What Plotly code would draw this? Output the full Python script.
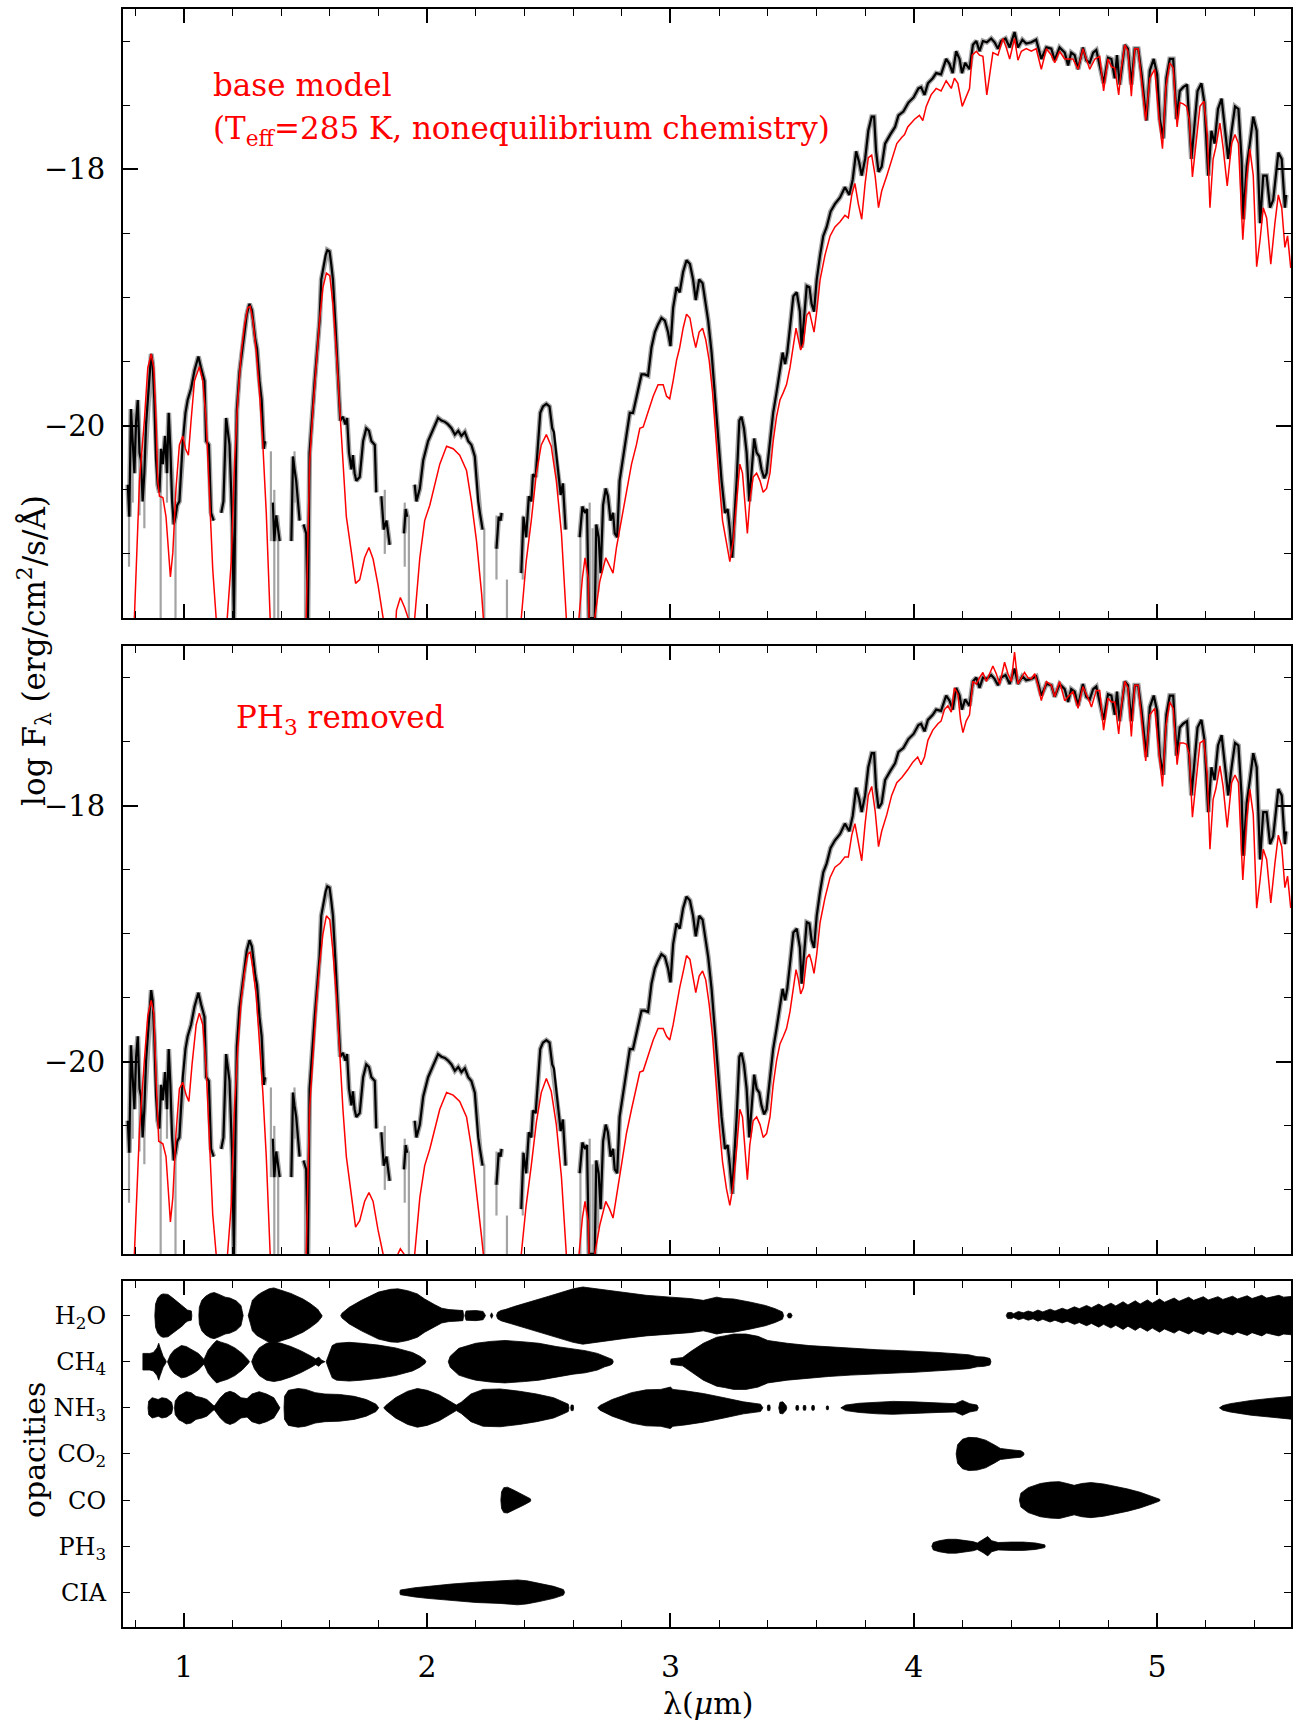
import plotly.graph_objects as go

# ---------------- data (wavelength in micron, log F_lambda) ----------------
# observed spectrum (black); None = gap
OBS = [(0.770,-20.46),(0.776,-20.71),(0.783,-19.87),(0.790,-20.12),(0.797,-20.37),(0.804,-19.96),(0.811,-19.80),
(0.818,-20.21),(0.824,-20.27),(0.831,-20.59),(0.838,-20.37),(0.845,-19.99),(0.852,-19.80),(0.859,-19.55),(0.866,-19.44),
(0.872,-19.52),(0.879,-19.80),(0.886,-20.27),(0.893,-20.46),(0.900,-20.52),(0.907,-20.18),(0.914,-20.30),(0.923,-20.08),
(0.931,-20.37),(0.938,-19.90),(0.945,-20.18),(0.952,-20.59),(0.959,-20.77),(0.966,-20.71),(0.973,-20.62),(0.982,-20.59),
(0.996,-20.12),(1.007,-19.90),(1.016,-19.80),(1.030,-19.71),(1.044,-19.57),(1.060,-19.46),(1.071,-19.55),(1.085,-19.65),
(1.092,-20.12),(1.103,-20.15),(1.112,-20.68),(1.123,-20.74),None,
(1.154,-20.68),(1.163,-20.59),(1.174,-19.94),(1.188,-20.15),(1.199,-20.74),(1.206,-21.5),(1.212,-20.6),(1.218,-19.88),
(1.229,-19.58),(1.246,-19.33),(1.259,-19.13),(1.270,-19.05),(1.280,-19.10),(1.294,-19.33),(1.301,-19.40),(1.311,-19.65),
(1.320,-19.80),(1.329,-20.18),(1.334,-20.12),None,
(1.366,-20.60),(1.372,-20.90),(1.380,-20.70),(1.394,-20.90),None,
(1.442,-20.90),(1.449,-20.24),(1.455,-20.34),(1.462,-20.43),(1.476,-20.74),None,
(1.492,-20.77),(1.503,-20.84),(1.510,-21.5),(1.517,-20.21),(1.538,-19.65),(1.558,-19.18),(1.565,-18.86),(1.583,-18.67),
(1.590,-18.63),(1.599,-18.64),(1.606,-18.74),(1.613,-18.86),(1.624,-19.24),(1.634,-19.61),(1.643,-19.96),(1.654,-19.93),
(1.664,-19.99),(1.671,-19.94),(1.679,-20.21),(1.689,-20.34),(1.695,-20.23),(1.702,-20.37),(1.709,-20.43),(1.723,-20.40),
(1.737,-20.12),(1.750,-20.02),(1.761,-20.04),(1.771,-20.12),(1.785,-20.15),(1.791,-20.52),None,
(1.812,-20.55),(1.822,-20.81),(1.833,-20.74),(1.846,-20.93),None,
(1.905,-20.84),(1.912,-20.65),(1.918,-20.71),None,
(1.949,-20.46),(1.956,-20.59),(1.970,-20.49),(1.984,-20.27),(2.004,-20.12),(2.025,-20.02),(2.045,-19.94),(2.059,-19.96),
(2.073,-19.97),(2.086,-19.99),(2.100,-20.02),(2.114,-20.07),(2.128,-20.04),(2.141,-20.08),(2.155,-20.05),(2.169,-20.12),
(2.182,-20.15),(2.196,-20.24),(2.210,-20.59),(2.217,-20.68),(2.228,-20.81),None,
(2.285,-20.96),(2.294,-20.71),(2.302,-20.74),(2.306,-20.68),None,
(2.387,-21.15),(2.396,-20.71),(2.407,-20.87),(2.418,-20.55),(2.428,-20.59),(2.435,-20.38),(2.446,-20.40),(2.455,-20.12),
(2.465,-19.90),(2.476,-19.85),(2.490,-19.83),(2.503,-19.85),(2.514,-20.02),(2.521,-20.05),(2.531,-20.24),(2.542,-20.43),
(2.549,-20.54),(2.558,-20.45),(2.565,-20.65),(2.569,-20.81),None,
(2.627,-20.87),(2.638,-20.63),(2.649,-20.68),(2.657,-20.65),(2.665,-21.5),(2.689,-21.5),(2.695,-20.77),(2.705,-20.87),
(2.713,-21.15),(2.723,-20.62),(2.734,-20.49),(2.743,-20.55),(2.754,-20.74),(2.764,-20.68),(2.771,-20.84),(2.781,-20.87),
(2.791,-20.43),(2.805,-20.24),(2.819,-20.05),(2.833,-19.90),(2.846,-19.90),(2.860,-19.77),(2.871,-19.68),(2.881,-19.60),
(2.894,-19.60),(2.908,-19.61),(2.922,-19.39),(2.936,-19.27),(2.949,-19.21),(2.963,-19.16),(2.977,-19.18),(2.990,-19.27),
(3.000,-19.38),(3.011,-19.08),(3.025,-18.92),(3.038,-18.96),(3.052,-18.80),(3.066,-18.71),(3.080,-18.74),(3.093,-18.86),
(3.104,-19.02),(3.118,-18.86),(3.132,-18.89),(3.145,-19.05),(3.155,-19.18),(3.169,-19.43),(3.182,-19.77),(3.196,-20.12),
(3.210,-20.43),(3.224,-20.68),(3.235,-20.65),(3.244,-20.81),(3.254,-21.03),(3.262,-20.74),(3.272,-20.43),(3.283,-19.96),
(3.292,-19.93),(3.302,-20.02),(3.313,-20.21),(3.324,-20.59),(3.333,-20.34),(3.344,-20.10),(3.354,-20.21),(3.365,-20.24),
(3.374,-20.34),(3.385,-20.41),(3.395,-20.37),(3.409,-20.12),(3.422,-19.90),(3.436,-19.74),(3.450,-19.58),(3.461,-19.43),
(3.471,-19.52),(3.480,-19.43),(3.491,-19.24),(3.505,-18.99),(3.519,-18.96),(3.532,-19.11),(3.539,-19.39),(3.549,-19.18),
(3.560,-18.91),(3.571,-18.92),(3.580,-19.05),(3.590,-19.11),(3.601,-18.86),(3.615,-18.67),(3.628,-18.52),(3.642,-18.45),
(3.658,-18.33),(3.676,-18.27),(3.697,-18.22),(3.717,-18.14),(3.735,-18.20),(3.749,-18.08),(3.763,-17.86),(3.776,-17.95),
(3.786,-18.05),(3.800,-17.92),(3.813,-17.70),(3.827,-17.59),(3.837,-17.59),(3.845,-17.86),(3.855,-18.02),(3.868,-17.98),
(3.882,-17.80),(3.903,-17.73),(3.923,-17.67),(3.937,-17.58),(3.957,-17.55),(3.978,-17.48),(3.999,-17.44),(4.019,-17.37),
(4.030,-17.36),(4.044,-17.42),(4.058,-17.33),(4.078,-17.29),(4.092,-17.25),(4.112,-17.26),(4.133,-17.14),(4.147,-17.18),
(4.160,-17.25),(4.174,-17.08),(4.188,-17.14),(4.198,-17.25),(4.211,-17.17),(4.229,-17.22),(4.243,-17.03),(4.257,-17.00),
(4.270,-17.08),(4.284,-17.00),(4.300,-17.01),(4.318,-16.98),(4.332,-17.01),(4.346,-17.06),(4.359,-17.00),(4.377,-16.98),
(4.394,-17.05),(4.414,-16.93),(4.428,-17.05),(4.446,-16.99),(4.462,-17.02),(4.483,-17.01),(4.503,-16.99),(4.524,-17.14),
(4.545,-17.05),(4.565,-17.06),(4.579,-17.15),(4.599,-17.05),(4.620,-17.09),(4.634,-17.19),(4.647,-17.09),(4.661,-17.11),
(4.675,-17.22),(4.695,-17.05),(4.709,-17.15),(4.723,-17.17),(4.737,-17.09),(4.750,-17.07),(4.764,-17.19),(4.780,-17.33),
(4.798,-17.13),(4.812,-17.14),(4.826,-17.29),(4.835,-17.11),(4.846,-17.34),(4.867,-17.03),(4.880,-17.06),(4.894,-17.34),
(4.908,-17.06),(4.922,-17.06),(4.936,-17.26),(4.956,-17.62),(4.970,-17.23),(4.986,-17.14),(5.000,-17.26),(5.011,-17.61),
(5.025,-17.76),(5.038,-17.29),(5.052,-17.14),(5.066,-17.14),(5.080,-17.61),(5.093,-17.39),(5.107,-17.36),(5.123,-17.34),
(5.141,-17.92),(5.155,-17.61),(5.166,-17.39),(5.182,-17.33),(5.194,-17.48),(5.210,-18.05),(5.223,-17.70),(5.236,-17.80),
(5.250,-17.53),(5.265,-17.45),(5.278,-17.70),(5.292,-17.92),(5.306,-17.70),(5.320,-17.51),(5.334,-17.53),(5.347,-17.92),
(5.354,-18.39),(5.368,-17.98),(5.381,-17.80),(5.395,-17.59),(5.409,-17.70),(5.423,-18.42),(5.436,-18.05),(5.450,-18.05),
(5.464,-18.30),(5.477,-18.24),(5.498,-17.87),(5.512,-17.92),(5.525,-18.30),(5.530,-18.20)]

# noise spikes of the observed spectrum: (wavelength, upper, lower)
OBS_SPIKES = [(0.775,-20.3,-21.1),(0.790,-19.9,-20.6),(0.818,-20.0,-20.7),(0.838,-20.2,-20.8),(0.905,-20.3,-21.5),
(0.931,-20.0,-20.6),(0.966,-20.6,-21.5),(1.205,-20.6,-21.5),(1.358,-20.2,-20.9),(1.372,-20.5,-21.5),(1.388,-20.7,-21.5),
(1.455,-20.2,-20.6),(1.498,-20.8,-21.5),(1.826,-20.5,-21.0),(1.908,-20.6,-21.1),(1.925,-20.7,-21.5),(2.235,-20.8,-21.5),
(2.285,-20.7,-21.2),(2.328,-21.2,-21.5),(2.393,-20.7,-21.2),(2.630,-20.8,-21.5),(2.668,-20.6,-21.5),(2.680,-20.8,-21.5),
(2.703,-20.8,-21.3)]

# model: base (Teff=285 K, nonequilibrium chemistry)
MODEL_BASE = [(0.797,-21.5),(0.818,-20.43),(0.838,-19.96),(0.852,-19.55),(0.866,-19.44),(0.877,-19.55),(0.886,-19.96),
(0.893,-20.43),(0.900,-20.55),(0.914,-20.56),(0.927,-20.71),(0.937,-20.99),(0.945,-21.18),(0.955,-20.99),(0.968,-20.49),
(0.982,-20.15),(0.996,-20.08),(1.007,-20.18),(1.019,-20.23),(1.030,-19.96),(1.044,-19.65),(1.064,-19.54),(1.078,-19.65),
(1.092,-19.96),(1.106,-20.59),(1.119,-21.12),(1.133,-21.5),(1.160,-22.0),(1.195,-21.06),(1.209,-20.27),(1.222,-19.80),
(1.236,-19.43),(1.250,-19.21),(1.263,-19.08),(1.273,-19.07),(1.284,-19.18),(1.298,-19.43),(1.311,-19.74),(1.325,-20.15),
(1.339,-20.68),(1.355,-21.5),(1.400,-22.0),(1.503,-21.5),(1.517,-20.30),(1.531,-19.87),(1.545,-19.49),(1.558,-19.18),
(1.572,-18.92),(1.586,-18.81),(1.600,-18.83),(1.613,-19.05),(1.627,-19.43),(1.641,-19.87),(1.654,-20.30),(1.668,-20.71),
(1.689,-20.99),(1.706,-21.23),(1.723,-21.20),(1.743,-21.03),(1.761,-20.95),(1.778,-21.04),(1.798,-21.24),(1.819,-21.5),
(1.860,-22.0),(1.874,-21.44),(1.890,-21.34),(1.908,-21.42),(1.922,-21.5),(1.935,-22.0),(1.949,-21.5),(1.970,-21.03),
(1.990,-20.74),(2.011,-20.62),(2.031,-20.46),(2.052,-20.30),(2.080,-20.16),(2.107,-20.18),(2.134,-20.23),(2.162,-20.35),
(2.182,-20.59),(2.203,-20.90),(2.224,-21.31),(2.231,-21.5),(2.300,-22.0),(2.387,-21.5),(2.407,-21.06),(2.428,-20.74),
(2.449,-20.37),(2.469,-20.15),(2.490,-20.07),(2.510,-20.16),(2.531,-20.43),(2.552,-20.84),(2.572,-21.5),(2.600,-22.0),
(2.624,-21.5),(2.638,-21.19),(2.649,-21.03),(2.662,-21.19),(2.665,-21.5),(2.680,-22.0),(2.689,-21.5),(2.709,-21.22),
(2.734,-21.03),(2.750,-21.09),(2.764,-21.15),(2.778,-20.95),(2.798,-20.74),(2.819,-20.49),(2.840,-20.30),(2.860,-20.15),
(2.874,-20.02),(2.888,-20.01),(2.908,-19.90),(2.929,-19.77),(2.949,-19.68),(2.970,-19.68),(2.984,-19.77),(2.997,-19.79),
(3.011,-19.65),(3.025,-19.49),(3.038,-19.39),(3.052,-19.24),(3.066,-19.13),(3.080,-19.16),(3.093,-19.30),(3.104,-19.39),
(3.118,-19.27),(3.132,-19.24),(3.145,-19.33),(3.159,-19.49),(3.173,-19.74),(3.187,-20.12),(3.200,-20.43),(3.214,-20.74),
(3.230,-20.93),(3.244,-21.06),(3.258,-20.90),(3.272,-20.62),(3.285,-20.30),(3.296,-20.37),(3.306,-20.59),(3.316,-20.84),
(3.326,-20.59),(3.340,-20.40),(3.354,-20.37),(3.368,-20.43),(3.381,-20.52),(3.395,-20.49),(3.409,-20.37),(3.422,-20.12),
(3.436,-19.93),(3.450,-19.80),(3.464,-19.74),(3.477,-19.68),(3.491,-19.55),(3.505,-19.36),(3.516,-19.24),(3.526,-19.33),
(3.535,-19.41),(3.546,-19.36),(3.560,-19.14),(3.571,-19.11),(3.580,-19.18),(3.590,-19.27),(3.601,-19.11),(3.615,-18.86),
(3.635,-18.67),(3.656,-18.52),(3.676,-18.45),(3.697,-18.41),(3.717,-18.36),(3.731,-18.38),(3.745,-18.20),(3.758,-18.11),
(3.772,-18.27),(3.786,-18.39),(3.800,-18.11),(3.813,-17.91),(3.827,-17.89),(3.841,-18.05),(3.855,-18.30),(3.868,-18.17),
(3.889,-18.05),(3.909,-17.92),(3.930,-17.80),(3.951,-17.75),(3.962,-17.73),(3.975,-17.67),(3.989,-17.64),(4.003,-17.61),
(4.023,-17.58),(4.037,-17.62),(4.051,-17.51),(4.071,-17.42),(4.092,-17.37),(4.112,-17.39),(4.133,-17.31),(4.154,-17.37),
(4.167,-17.29),(4.181,-17.33),(4.199,-17.51),(4.215,-17.43),(4.229,-17.37),(4.240,-17.11),(4.257,-17.08),(4.270,-17.11),
(4.284,-17.12),(4.300,-17.42),(4.311,-17.29),(4.325,-17.09),(4.346,-17.11),(4.366,-16.98),(4.380,-17.05),(4.394,-17.14),
(4.414,-16.98),(4.428,-17.15),(4.442,-17.08),(4.462,-17.06),(4.483,-17.08),(4.503,-17.06),(4.524,-17.22),(4.545,-17.06),
(4.565,-17.11),(4.579,-17.17),(4.599,-17.08),(4.620,-17.14),(4.634,-17.14),(4.654,-17.14),(4.675,-17.22),(4.695,-17.06),
(4.709,-17.14),(4.723,-17.22),(4.744,-17.14),(4.764,-17.12),(4.780,-17.39),(4.798,-17.14),(4.812,-17.20),(4.826,-17.21),
(4.842,-17.42),(4.853,-17.21),(4.867,-17.03),(4.880,-17.08),(4.894,-17.43),(4.908,-17.06),(4.922,-17.06),(4.936,-17.32),
(4.953,-17.62),(4.970,-17.29),(4.990,-17.22),(5.008,-17.61),(5.022,-17.84),(5.036,-17.36),(5.052,-17.17),(5.066,-17.21),
(5.082,-17.67),(5.093,-17.48),(5.107,-17.49),(5.121,-17.51),(5.132,-17.61),(5.145,-18.06),(5.160,-17.80),(5.176,-17.51),
(5.192,-17.47),(5.206,-17.73),(5.217,-18.30),(5.230,-17.92),(5.241,-17.83),(5.258,-17.64),(5.271,-17.83),(5.288,-18.13),
(5.306,-17.80),(5.320,-17.73),(5.334,-17.80),(5.343,-18.24),(5.352,-18.55),(5.368,-18.08),(5.381,-17.84),(5.395,-18.05),
(5.409,-18.76),(5.423,-18.55),(5.436,-18.30),(5.450,-18.38),(5.467,-18.74),(5.484,-18.42),(5.498,-18.20),(5.512,-18.30),
(5.525,-18.61),(5.536,-18.52),(5.549,-18.77)]

# model with PH3 removed
MODEL_NOPH3 = [(0.797,-21.5),(0.818,-20.53),(0.838,-19.99),(0.852,-19.64),(0.866,-19.52),(0.877,-19.62),(0.886,-20.12),
(0.897,-20.62),(0.914,-20.64),(0.927,-20.74),(0.937,-21.02),(0.945,-21.25),(0.955,-21.06),(0.968,-20.56),(0.982,-20.21),
(0.996,-20.16),(1.010,-20.26),(1.021,-20.31),(1.034,-20.02),(1.051,-19.71),(1.064,-19.62),(1.078,-19.71),(1.092,-20.05),
(1.106,-20.65),(1.119,-21.19),(1.133,-21.5),(1.160,-22.0),(1.195,-21.12),(1.209,-20.33),(1.222,-19.90),(1.236,-19.52),
(1.250,-19.30),(1.263,-19.16),(1.273,-19.14),(1.284,-19.27),(1.298,-19.49),(1.311,-19.83),(1.325,-20.24),(1.339,-20.74),
(1.355,-21.5),(1.400,-22.0),(1.503,-21.5),(1.517,-20.37),(1.531,-19.93),(1.545,-19.55),(1.558,-19.24),(1.572,-19.00),
(1.586,-18.86),(1.600,-18.89),(1.613,-19.14),(1.627,-19.49),(1.641,-19.93),(1.654,-20.37),(1.668,-20.74),(1.689,-21.06),
(1.706,-21.29),(1.723,-21.24),(1.743,-21.09),(1.761,-21.02),(1.778,-21.09),(1.798,-21.31),(1.819,-21.5),(1.860,-22.0),
(1.880,-21.5),(1.890,-21.46),(1.905,-21.5),(1.930,-22.0),(1.949,-21.5),(1.970,-21.06),(1.990,-20.81),(2.011,-20.68),
(2.031,-20.53),(2.052,-20.37),(2.080,-20.24),(2.107,-20.26),(2.134,-20.31),(2.162,-20.43),(2.182,-20.67),(2.203,-21.00),
(2.224,-21.37),(2.231,-21.5),(2.300,-22.0),(2.387,-21.5),(2.407,-21.12),(2.428,-20.81),(2.449,-20.47),(2.469,-20.24),
(2.490,-20.13),(2.510,-20.23),(2.531,-20.49),(2.552,-20.90),(2.572,-21.5),(2.600,-22.0),(2.624,-21.5),(2.638,-21.22),
(2.649,-21.09),(2.662,-21.25),(2.665,-21.5),(2.680,-22.0),(2.689,-21.5),(2.709,-21.28),(2.734,-21.09),(2.750,-21.15),
(2.764,-21.22),(2.778,-21.06),(2.798,-20.81),(2.819,-20.56),(2.840,-20.37),(2.860,-20.21),(2.874,-20.08),(2.888,-20.07),
(2.908,-19.96),(2.929,-19.83),(2.949,-19.74),(2.970,-19.74),(2.984,-19.80),(2.997,-19.83),(3.011,-19.71),(3.025,-19.55),
(3.038,-19.42),(3.052,-19.30),(3.066,-19.17),(3.080,-19.20),(3.093,-19.35),(3.104,-19.46),(3.118,-19.33),(3.132,-19.29),
(3.145,-19.36),(3.159,-19.55),(3.173,-19.80),(3.187,-20.18),(3.200,-20.49),(3.214,-20.78),(3.230,-20.99),(3.244,-21.12),
(3.258,-20.96),(3.272,-20.68),(3.285,-20.37),(3.296,-20.43),(3.306,-20.65),(3.316,-20.92),(3.326,-20.65),(3.340,-20.46),
(3.354,-20.43),(3.368,-20.49),(3.381,-20.59),(3.395,-20.56),(3.409,-20.43),(3.422,-20.18),(3.436,-19.99),(3.450,-19.86),
(3.464,-19.80),(3.477,-19.74),(3.491,-19.61),(3.505,-19.42),(3.516,-19.28),(3.526,-19.36),(3.535,-19.47),(3.546,-19.42),
(3.560,-19.19),(3.571,-19.16),(3.580,-19.22),(3.590,-19.31),(3.601,-19.16),(3.615,-18.91),(3.635,-18.72),(3.656,-18.56),
(3.676,-18.48),(3.697,-18.45),(3.717,-18.40),(3.731,-18.40),(3.745,-18.23),(3.758,-18.14),(3.772,-18.30),(3.786,-18.43),
(3.800,-18.14),(3.813,-17.92),(3.827,-17.85),(3.841,-18.04),(3.855,-18.32),(3.868,-18.20),(3.889,-18.07),(3.909,-17.92),
(3.930,-17.82),(3.951,-17.78),(3.975,-17.72),(3.996,-17.66),(4.016,-17.62),(4.030,-17.68),(4.044,-17.62),(4.058,-17.49),
(4.078,-17.41),(4.099,-17.36),(4.112,-17.34),(4.126,-17.25),(4.140,-17.22),(4.154,-17.27),(4.167,-17.08),(4.181,-17.13),
(4.192,-17.33),(4.202,-17.43),(4.215,-17.34),(4.229,-17.29),(4.243,-17.03),(4.257,-17.05),(4.270,-17.00),(4.284,-16.96),
(4.298,-17.03),(4.311,-16.97),(4.325,-16.91),(4.339,-16.97),(4.353,-17.05),(4.373,-16.88),(4.387,-16.97),(4.401,-17.03),
(4.414,-16.80),(4.428,-17.05),(4.442,-17.00),(4.455,-16.96),(4.469,-17.00),(4.483,-17.01),(4.497,-16.97),(4.510,-17.06),
(4.524,-17.18),(4.545,-17.03),(4.565,-17.06),(4.579,-17.15),(4.599,-17.03),(4.620,-17.18),(4.634,-17.15),(4.654,-17.11),
(4.675,-17.24),(4.695,-17.07),(4.716,-17.16),(4.730,-17.23),(4.750,-17.10),(4.764,-17.10),(4.780,-17.41),(4.798,-17.16),
(4.812,-17.19),(4.826,-17.19),(4.842,-17.44),(4.853,-17.22),(4.867,-17.03),(4.880,-17.08),(4.894,-17.46),(4.908,-17.06),
(4.922,-17.06),(4.936,-17.31),(4.953,-17.65),(4.970,-17.29),(4.990,-17.24),(5.008,-17.60),(5.022,-17.85),(5.036,-17.38),
(5.052,-17.19),(5.066,-17.24),(5.082,-17.68),(5.093,-17.51),(5.107,-17.51),(5.121,-17.52),(5.132,-17.60),(5.145,-18.09),
(5.160,-17.82),(5.176,-17.51),(5.192,-17.49),(5.206,-17.76),(5.217,-18.34),(5.230,-17.95),(5.241,-17.87),(5.258,-17.69),
(5.271,-17.85),(5.288,-18.17),(5.306,-17.82),(5.320,-17.76),(5.334,-17.82),(5.343,-18.26),(5.352,-18.58),(5.368,-18.11),
(5.381,-17.87),(5.395,-18.07),(5.409,-18.80),(5.423,-18.58),(5.436,-18.34),(5.450,-18.42),(5.467,-18.76),(5.484,-18.45),
(5.498,-18.23),(5.512,-18.32),(5.525,-18.64),(5.536,-18.55),(5.549,-18.80)]

# opacity panel: rows and band envelopes (wavelength, half-thickness in row units)
SPECIES = ["H<sub>2</sub>O", "CH<sub>4</sub>", "NH<sub>3</sub>", "CO<sub>2</sub>", "CO", "PH<sub>3</sub>", "CIA"]
ROW_POS = [7, 6, 5, 4, 3, 2, 1]

H2O_BANDS = [
 [(0.881,0.0),(0.884,0.25),(0.893,0.38),(0.905,0.45),(0.915,0.47),(0.935,0.46),(0.955,0.38),(0.975,0.30),(0.995,0.22),(1.005,0.16),(1.015,0.12),(1.031,0.10),(1.033,0.0)],
 [(1.062,0.0),(1.064,0.18),(1.074,0.33),(1.090,0.42),(1.109,0.48),(1.125,0.50),(1.145,0.46),(1.170,0.40),(1.190,0.38),(1.215,0.32),(1.235,0.22),(1.244,0.0)],
 [(1.265,0.0),(1.270,0.10),(1.282,0.33),(1.300,0.43),(1.320,0.50),(1.350,0.58),(1.370,0.60),(1.400,0.55),(1.440,0.48),(1.490,0.36),(1.520,0.26),(1.550,0.14),(1.567,0.03),(1.568,0.0)],
 [(1.645,0.0),(1.650,0.05),(1.680,0.18),(1.730,0.33),(1.800,0.51),(1.850,0.57),(1.880,0.58),(1.920,0.54),(1.960,0.47),(1.990,0.36),(2.030,0.24),(2.060,0.16),(2.090,0.13),(2.120,0.12),(2.147,0.11),(2.150,0.0)],
 [(2.155,0.0),(2.160,0.10),(2.200,0.11),(2.230,0.09),(2.240,0.0)],
 [(2.260,0.0),(2.265,0.06),(2.270,0.0)],
 [(2.285,0.0),(2.290,0.07),(2.303,0.11),(2.320,0.13),(2.360,0.20),(2.400,0.26),(2.450,0.33),(2.500,0.42),(2.550,0.50),(2.600,0.58),(2.640,0.62),(2.700,0.58),(2.760,0.53),(2.820,0.49),(2.900,0.44),(3.000,0.40),(3.080,0.37),(3.135,0.33),(3.160,0.36),(3.190,0.40),(3.220,0.37),(3.260,0.36),(3.330,0.29),(3.390,0.22),(3.430,0.15),(3.460,0.08),(3.465,0.0)],
 [(3.480,0.0),(3.485,0.05),(3.495,0.05),(3.500,0.0)],
 [(4.380,0.0),(4.385,0.06),(4.400,0.07),(4.410,0.04),(4.430,0.09),(4.450,0.06),(4.470,0.10),(4.490,0.07),(4.510,0.12),(4.530,0.08),(4.560,0.14),(4.580,0.10),(4.610,0.16),(4.630,0.12),(4.660,0.19),(4.680,0.15),(4.710,0.22),(4.730,0.17),(4.760,0.25),(4.780,0.19),(4.810,0.27),(4.830,0.21),(4.860,0.30),(4.880,0.23),(4.910,0.32),(4.930,0.25),(4.960,0.34),(4.980,0.27),(5.010,0.36),(5.030,0.29),(5.070,0.38),(5.090,0.31),(5.130,0.40),(5.150,0.33),(5.190,0.41),(5.210,0.34),(5.250,0.41),(5.270,0.35),(5.310,0.42),(5.330,0.36),(5.370,0.43),(5.390,0.37),(5.430,0.44),(5.450,0.38),(5.500,0.44),(5.520,0.40),(5.560,0.42)],
]
CH4_BANDS = [
 [(0.832,0.0),(0.832,0.18),(0.860,0.18),(0.875,0.20),(0.890,0.30),(0.897,0.40),(0.903,0.30),(0.915,0.12),(0.925,0.04),(0.928,0.0)],
 [(0.933,0.0),(0.945,0.15),(0.960,0.25),(0.975,0.30),(0.990,0.35),(1.010,0.33),(1.040,0.25),(1.060,0.18),(1.083,0.05),(1.100,0.25),(1.120,0.38),(1.135,0.46),(1.150,0.43),(1.180,0.38),(1.210,0.30),(1.240,0.18),(1.265,0.04),(1.270,0.0)],
 [(1.279,0.0),(1.290,0.15),(1.310,0.30),(1.340,0.40),(1.370,0.43),(1.400,0.40),(1.440,0.33),(1.480,0.24),(1.520,0.13),(1.542,0.06),(1.555,0.10),(1.565,0.04),(1.580,0.0)],
 [(1.585,0.0),(1.593,0.12),(1.610,0.35),(1.628,0.40),(1.680,0.42),(1.730,0.40),(1.800,0.36),(1.870,0.30),(1.940,0.20),(1.970,0.12),(1.991,0.04),(1.995,0.0)],
 [(2.087,0.0),(2.095,0.12),(2.130,0.29),(2.170,0.36),(2.200,0.40),(2.260,0.44),(2.320,0.46),(2.400,0.43),(2.460,0.40),(2.530,0.33),(2.600,0.27),(2.650,0.24),(2.700,0.18),(2.730,0.11),(2.750,0.08),(2.761,0.05),(2.765,0.0)],
 [(3.000,0.0),(3.003,0.06),(3.050,0.09),(3.083,0.22),(3.135,0.40),(3.190,0.53),(3.222,0.56),(3.260,0.60),(3.310,0.60),(3.360,0.55),(3.400,0.46),(3.480,0.40),(3.570,0.35),(3.650,0.32),(3.741,0.29),(3.850,0.26),(3.950,0.24),(4.000,0.23),(4.100,0.20),(4.180,0.17),(4.226,0.15),(4.260,0.11),(4.290,0.10),(4.313,0.07),(4.317,0.0)],
]
NH3_BANDS = [
 [(0.853,0.0),(0.856,0.15),(0.870,0.22),(0.885,0.20),(0.895,0.18),(0.910,0.22),(0.930,0.20),(0.950,0.12),(0.955,0.0)],
 [(0.962,0.0),(0.965,0.15),(0.980,0.26),(0.995,0.30),(1.010,0.35),(1.030,0.33),(1.050,0.25),(1.075,0.22),(1.095,0.18),(1.118,0.07),(1.125,0.04),(1.130,0.07),(1.150,0.22),(1.170,0.32),(1.190,0.36),(1.210,0.32),(1.235,0.22),(1.260,0.20),(1.280,0.30),(1.310,0.35),(1.340,0.30),(1.370,0.22),(1.390,0.05),(1.395,0.0)],
 [(1.412,0.0),(1.414,0.25),(1.430,0.38),(1.470,0.42),(1.500,0.40),(1.540,0.33),(1.580,0.30),(1.640,0.29),(1.700,0.25),(1.750,0.18),(1.790,0.08),(1.801,0.0)],
 [(1.822,0.0),(1.830,0.05),(1.870,0.22),(1.920,0.36),(1.960,0.42),(2.000,0.38),(2.050,0.28),(2.090,0.16),(2.120,0.06),(2.140,0.12),(2.180,0.30),(2.230,0.40),(2.300,0.41),(2.380,0.36),(2.450,0.30),(2.520,0.22),(2.560,0.13),(2.580,0.08),(2.583,0.0)],
 [(2.590,0.0),(2.592,0.06),(2.600,0.06),(2.602,0.0)],
 [(2.701,0.0),(2.710,0.05),(2.760,0.18),(2.840,0.33),(2.900,0.39),(2.960,0.40),(3.000,0.45),(3.010,0.40),(3.060,0.37),(3.135,0.31),(3.220,0.22),(3.300,0.13),(3.370,0.08),(3.380,0.0)],
 [(3.398,0.0),(3.400,0.06),(3.408,0.06),(3.410,0.0)],
 [(3.445,0.0),(3.450,0.12),(3.462,0.13),(3.475,0.05),(3.478,0.0)],
 [(3.515,0.0),(3.517,0.05),(3.525,0.05),(3.527,0.0)],
 [(3.545,0.0),(3.547,0.05),(3.555,0.05),(3.557,0.0)],
 [(3.580,0.0),(3.582,0.05),(3.590,0.05),(3.592,0.0)],
 [(3.640,0.0),(3.642,0.04),(3.648,0.04),(3.650,0.0)],
 [(3.700,0.0),(3.720,0.06),(3.776,0.10),(3.850,0.13),(3.914,0.14),(4.000,0.13),(4.100,0.10),(4.170,0.09),(4.200,0.16),(4.230,0.09),(4.260,0.06),(4.265,0.0)],
 [(5.256,0.0),(5.270,0.05),(5.300,0.09),(5.386,0.16),(5.473,0.21),(5.560,0.25)],
]
CO2_BANDS = [
 [(4.174,0.0),(4.180,0.20),(4.200,0.32),(4.226,0.36),(4.260,0.35),(4.295,0.30),(4.330,0.20),(4.356,0.12),(4.400,0.09),(4.440,0.07),(4.451,0.03),(4.453,0.0)],
]
CO_BANDS = [
 [(2.303,0.0),(2.306,0.18),(2.315,0.27),(2.330,0.28),(2.355,0.22),(2.380,0.15),(2.400,0.10),(2.424,0.03),(2.426,0.0)],
 [(4.434,0.0),(4.440,0.15),(4.470,0.27),(4.520,0.36),(4.560,0.39),(4.598,0.40),(4.630,0.36),(4.659,0.32),(4.690,0.36),(4.728,0.38),(4.780,0.35),(4.830,0.30),(4.880,0.24),(4.930,0.17),(4.980,0.08),(5.010,0.02),(5.012,0.0)],
]
PH3_BANDS = [
 [(4.074,0.0),(4.080,0.08),(4.105,0.12),(4.140,0.15),(4.174,0.15),(4.210,0.13),(4.243,0.10),(4.261,0.07),(4.285,0.14),(4.304,0.21),(4.320,0.12),(4.347,0.08),(4.400,0.09),(4.450,0.09),(4.500,0.07),(4.538,0.03),(4.540,0.0)],
]
CIA_BANDS = [
 [(1.888,0.0),(1.890,0.05),(1.950,0.10),(2.000,0.13),(2.100,0.18),(2.200,0.22),(2.300,0.24),(2.372,0.27),(2.410,0.25),(2.460,0.20),(2.520,0.13),(2.560,0.06),(2.565,0.0)],
]
ALL_BANDS = [H2O_BANDS, CH4_BANDS, NH3_BANDS, CO2_BANDS, CO_BANDS, PH3_BANDS, CIA_BANDS]

# ---------------- figure ----------------
FONT = "DejaVu Serif"
GRAY = "#a3a3a3"


def unzip(pairs):
    xs = [p[0] if p is not None else None for p in pairs]
    ys = [p[1] if p is not None else None for p in pairs]
    return xs, ys


def spikes(lst):
    xs, ys = [], []
    for x, a, b in lst:
        xs += [x, x, None]
        ys += [a, b, None]
    return xs, ys


fig = go.Figure()
ox, oy = unzip(OBS)
sx, sy = spikes(OBS_SPIKES)

for i, model in enumerate([MODEL_BASE, MODEL_NOPH3]):
    xa = "x" if i == 0 else "x2"
    ya = "y" if i == 0 else "y2"
    fig.add_trace(go.Scatter(x=ox, y=oy, xaxis=xa, yaxis=ya, mode="lines",
                             line=dict(color=GRAY, width=5), connectgaps=False, hoverinfo="skip"))
    fig.add_trace(go.Scatter(x=sx, y=sy, xaxis=xa, yaxis=ya, mode="lines",
                             line=dict(color=GRAY, width=2.2), hoverinfo="skip"))
    fig.add_trace(go.Scatter(x=ox, y=oy, xaxis=xa, yaxis=ya, mode="lines",
                             line=dict(color="black", width=2.2), connectgaps=False))
    mx, my = unzip(model)
    fig.add_trace(go.Scatter(x=mx, y=my, xaxis=xa, yaxis=ya, mode="lines",
                             line=dict(color="#ff0000", width=1.5)))

for row, bands in zip(ROW_POS, ALL_BANDS):
    for band in bands:
        xs = [p[0] for p in band] + [p[0] for p in reversed(band)]
        ys = [row + p[1] for p in band] + [row - p[1] for p in reversed(band)]
        fig.add_trace(go.Scatter(x=xs, y=ys, xaxis="x3", yaxis="y3", mode="lines",
                                 fill="toself", fillcolor="black",
                                 line=dict(color="black", width=0.8), hoverinfo="skip"))

XDOM = [0.0945, 0.9923]
xcommon = dict(range=[0.75, 5.55], domain=XDOM, showgrid=False, zeroline=False,
               showline=True, linecolor="black", linewidth=2, mirror="allticks",
               ticks="inside", tick0=0, dtick=1, ticklen=14, tickwidth=1.5, tickcolor="black",
               minor=dict(ticks="inside", dtick=0.2, tick0=0, ticklen=7, tickwidth=1.2, tickcolor="black"))
ycommon = dict(range=[-21.5, -16.75], showgrid=False, zeroline=False,
               showline=True, linecolor="black", linewidth=2, mirror="allticks",
               ticks="inside", tick0=-20, dtick=2, ticklen=15, tickwidth=1.5, tickcolor="black",
               minor=dict(ticks="inside", dtick=0.5, tick0=0, ticklen=7, tickwidth=1.2, tickcolor="black"),
               tickfont=dict(family=FONT, size=29, color="black"), ticklabelstandoff=10)

fig.update_layout(
    width=1301, height=1722, margin=dict(l=0, r=0, t=0, b=0),
    paper_bgcolor="white", plot_bgcolor="white", showlegend=False,
    xaxis=dict(xcommon, anchor="y", showticklabels=False),
    yaxis=dict(ycommon, domain=[0.6411, 0.9948], anchor="x"),
    xaxis2=dict(xcommon, anchor="y2", showticklabels=False),
    yaxis2=dict(ycommon, domain=[0.2718, 0.6251], anchor="x2"),
    xaxis3=dict(xcommon, anchor="y3", showticklabels=True,
                tickfont=dict(family=FONT, size=30, color="black"), ticklabelstandoff=12),
    yaxis3=dict(domain=[0.0552, 0.2561], anchor="x3", range=[0.25, 7.75], showgrid=False,
                zeroline=False, showline=True, linecolor="black", linewidth=2, mirror="allticks",
                ticks="inside", ticklen=7, tickwidth=1.2, tickcolor="black",
                tickmode="array", tickvals=ROW_POS, ticktext=SPECIES,
                tickfont=dict(family=FONT, size=24, color="black"), ticklabelstandoff=10),
)

fig.add_annotation(text="base model", x=0.162, y=0.9506, xref="paper", yref="paper",
                   xanchor="left", yanchor="middle", showarrow=False,
                   font=dict(family=FONT, size=31, color="#ff0000"))
fig.add_annotation(text="(T<sub>eff</sub>=285 K, nonequilibrium chemistry)", x=0.162, y=0.9245,
                   xref="paper", yref="paper", xanchor="left", yanchor="middle", showarrow=False,
                   font=dict(family=FONT, size=31, color="#ff0000"))
fig.add_annotation(text="PH<sub>3</sub> removed", x=0.180, y=0.582, xref="paper", yref="paper",
                   xanchor="left", yanchor="middle", showarrow=False,
                   font=dict(family=FONT, size=31, color="#ff0000"))
fig.add_annotation(text="log F<sub>λ</sub> (erg/cm<sup>2</sup>/s/Å)", x=0.026, y=0.6225,
                   xref="paper", yref="paper", xanchor="center", yanchor="middle", textangle=-90,
                   showarrow=False, font=dict(family=FONT, size=31, color="black"))
fig.add_annotation(text="opacities", x=0.027, y=0.158, xref="paper", yref="paper",
                   xanchor="center", yanchor="middle", textangle=-90, showarrow=False,
                   font=dict(family=FONT, size=30, color="black"))
fig.add_annotation(text="λ(<i>μ</i>m)", x=0.544, y=0.011, xref="paper", yref="paper",
                   xanchor="center", yanchor="middle", showarrow=False,
                   font=dict(family=FONT, size=30, color="black"))

fig.write_html("out.html")
